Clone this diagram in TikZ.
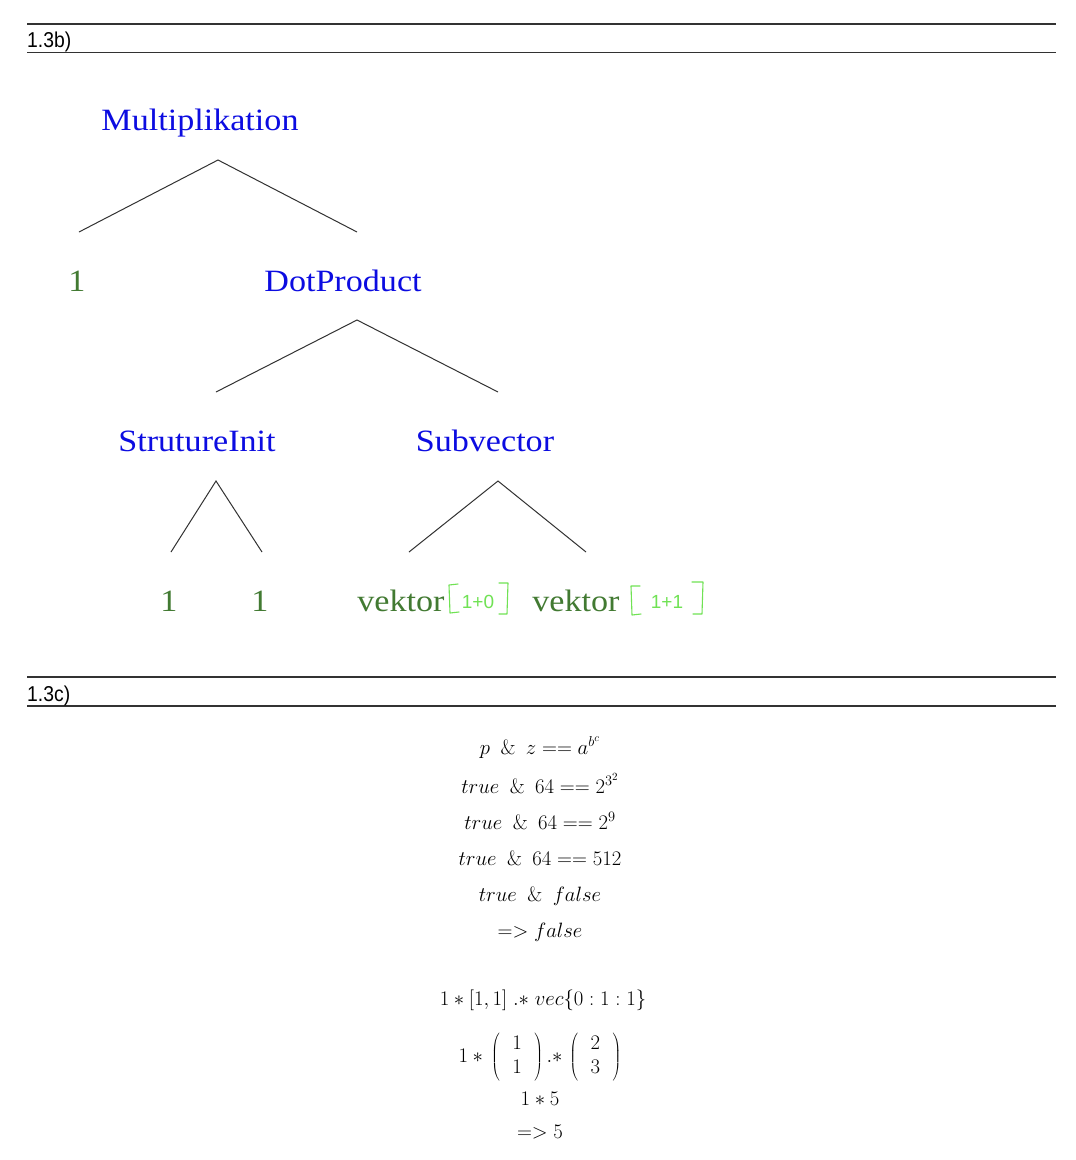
\documentclass[tikz,border=0pt]{standalone}
\usepackage[no-math]{fontspec}
\setmainfont{Liberation Serif}
\newfontfamily\hdrfont{Liberation Sans}
\usepackage{graphicx}
\definecolor{nodeblue}{RGB}{12,12,225}
\definecolor{leafgreen}{RGB}{66,122,50}
\definecolor{handgreen}{RGB}{112,226,84}
\definecolor{rulegray}{RGB}{50,50,50}
\newcommand\wtxt[1]{\scalebox{1.1}[1]{#1}}
\newcommand\whdr[1]{\scalebox{0.9}[1]{#1}}
\begin{document}
\begin{tikzpicture}[x=1pt,y=-1pt,
  hdr/.style={anchor=base west, inner sep=0pt, font=\hdrfont\fontsize{21.5}{25}\selectfont, text=black},
  rulel/.style={draw=rulegray, line width=1.3pt},
  inode/.style={anchor=base, inner sep=0pt, text=nodeblue, font=\fontsize{31}{36}\selectfont},
  leaf/.style={anchor=base, inner sep=0pt, text=leafgreen, font=\fontsize{31}{36}\selectfont},
  edge/.style={draw=rulegray, line width=1pt},
  hand/.style={draw=handgreen, line width=1.1pt, line cap=round, line join=round},
  handtext/.style={anchor=base, inner sep=0pt, text=handgreen, font=\hdrfont\fontsize{19}{22}\selectfont},
  mathl/.style={anchor=base, inner sep=0pt, font=\fontsize{21}{25}\selectfont}
]
\useasboundingbox[fill=white] (0,0) rectangle (1076,1160);

% header 1.3b
\coordinate (h1a) at (27,24); \coordinate (h1b) at (1056,24);
\coordinate (h1c) at (27,52.5); \coordinate (h1d) at (1056,52.5);
\draw[rulel] (h1a) -- (h1b);
\draw[rulel] (h1c) -- (h1d);
\node[hdr] (hb) at (27,47.5) {\whdr{1.3b)}};

% tree nodes
\node[inode] (mult) at (200,130) {\wtxt{Multiplikation}};
\node[leaf]  (one)  at (77,291) {\wtxt{1}};
\node[inode] (dot)  at (343,291) {\wtxt{DotProduct}};
\node[inode] (init) at (197,451) {\wtxt{StrutureInit}};
\node[inode] (sub)  at (485,451) {\wtxt{Subvector}};
\node[leaf]  (la)   at (169,611) {\wtxt{1}};
\node[leaf]  (lb)   at (260,611) {\wtxt{1}};
\node[leaf]  (va)   at (401,611) {\wtxt{vektor}};
\node[leaf]  (vb)   at (576,611) {\wtxt{vektor}};

% tree edges
\coordinate (mt) at (218,160); \coordinate (ml) at (79,232); \coordinate (mr) at (357,232);
\coordinate (dt) at (357,320); \coordinate (dl) at (216,392); \coordinate (dr) at (498,392);
\coordinate (it) at (216,481); \coordinate (il) at (171,552); \coordinate (ir) at (262,552);
\coordinate (st) at (498,481); \coordinate (sl) at (409,552); \coordinate (sr) at (586,552);
\draw[edge] (ml) -- (mt) -- (mr);
\draw[edge] (dl) -- (dt) -- (dr);
\draw[edge] (il) -- (it) -- (ir);
\draw[edge] (sl) -- (st) -- (sr);

% handwritten annotations
\draw[hand] (458,584) -- (449,585) -- (450,613) -- (459,612);
\draw[hand] (499,583) -- (508,583) -- (507,614) -- (499,614);
\node[handtext] (ha) at (478,608) {1+0};
\draw[hand] (640,586) -- (631,586) -- (632,615) -- (641,614);
\draw[hand] (692,582) -- (703,582) -- (702,614) -- (693,614);
\node[handtext] (hbb) at (667,608) {1+1};

% header 1.3c
\coordinate (h2a) at (27,677); \coordinate (h2b) at (1056,677);
\coordinate (h2c) at (27,706); \coordinate (h2d) at (1056,706);
\draw[rulel] (h2a) -- (h2b);
\draw[rulel] (h2c) -- (h2d);
\node[hdr] (hc) at (27,701.5) {\whdr{1.3c)}};

% math
\node[mathl] (m1) at (540,754) {$p\enspace\&\enspace z == a^{b^{c}}$};
\node[mathl] (m2) at (540,793) {$true\enspace\&\enspace 64 == 2^{3^{2}}$};
\node[mathl] (m3) at (540,829) {$true\enspace\&\enspace 64 == 2^{9}$};
\node[mathl] (m4) at (540,865) {$true\enspace\&\enspace 64 == 512$};
\node[mathl] (m5) at (540,901) {$true\enspace\&\enspace false$};
\node[mathl] (m6) at (540,937) {$=> false$};
\node[mathl] (m7) at (543,1005) {$1 * [1,1]\;.{*}\;vec\{0:1:1\}$};
\node[mathl] (m8) at (540,1062) {\setlength\arraycolsep{12.5pt}\renewcommand\arraystretch{0.95}$1*\,\left(\begin{array}{c}1\\1\end{array}\right).{*}\,\left(\begin{array}{c}2\\3\end{array}\right)$};
\node[mathl] (m9) at (540,1105) {$1*5$};
\node[mathl] (m10) at (540,1138) {$=> 5$};
\end{tikzpicture}
\end{document}
